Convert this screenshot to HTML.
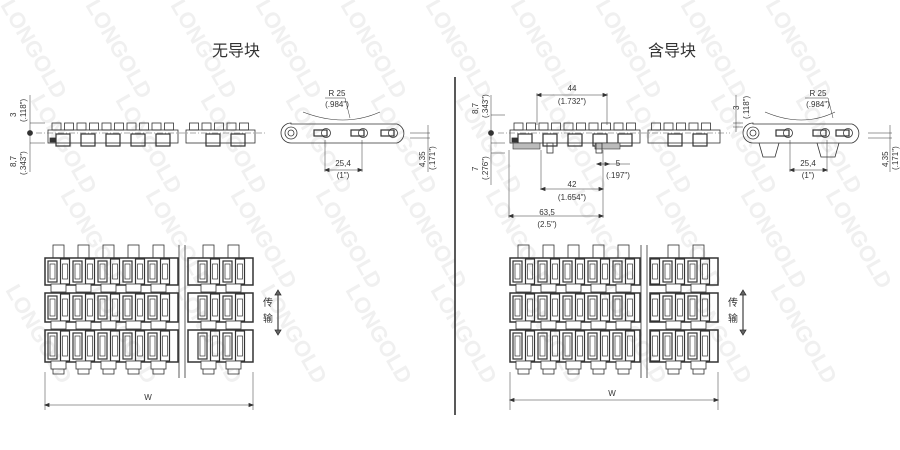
<!DOCTYPE html>
<html><head><meta charset="utf-8"><style>
html,body{margin:0;padding:0;background:#fff;overflow:hidden;width:900px;height:450px;}
svg{display:block;overflow:hidden;}
text{font-family:"Liberation Sans","Noto Sans CJK SC",sans-serif;fill:#333;}
text.w{fill:#f0f0f0;font-size:22px;font-weight:bold;}
</style></head><body>
<svg id="s" width="900" height="450" viewBox="0 0 900 450" xmlns="http://www.w3.org/2000/svg">
<g id="wm"></g>
<text x="212" y="56" font-size="16">无导块</text>
<text x="648" y="56" font-size="16">含导块</text>
<line x1="455" y1="77" x2="455" y2="415" stroke="#222" stroke-width="1.5"/>
<g id="g" stroke="#333" fill="none" stroke-width="0.8"></g>
<g font-size="8">
<text transform="translate(16,117) rotate(-90)">3</text>
<text transform="translate(26,122) rotate(-90)">(.118")</text>
<text transform="translate(16,167) rotate(-90)">8,7</text>
<text transform="translate(26,175) rotate(-90)">(.343")</text>
<text x="337" y="96" text-anchor="middle">R 25</text>
<text x="337" y="107" text-anchor="middle">(.984")</text>
<text x="343" y="166" text-anchor="middle">25,4</text>
<text x="343" y="178" text-anchor="middle">(1")</text>
<text transform="translate(425,167) rotate(-90)">4,35</text>
<text transform="translate(435,170) rotate(-90)">(.171")</text>
<text x="148" y="400" text-anchor="middle">W</text>
<text x="263" y="306" font-size="10">传</text>
<text x="263" y="322" font-size="10">输</text>
<text x="572" y="91" text-anchor="middle">44</text>
<text x="572" y="104" text-anchor="middle">(1.732")</text>
<text transform="translate(478,114) rotate(-90)">8,7</text>
<text transform="translate(488,118) rotate(-90)">(.343")</text>
<text transform="translate(478,171) rotate(-90)">7</text>
<text transform="translate(488,180) rotate(-90)">(.276")</text>
<text x="618" y="166" text-anchor="middle">5</text>
<text x="618" y="178" text-anchor="middle">(.197")</text>
<text x="572" y="187" text-anchor="middle">42</text>
<text x="572" y="200" text-anchor="middle">(1.654")</text>
<text x="547" y="215" text-anchor="middle">63,5</text>
<text x="547" y="227" text-anchor="middle">(2.5")</text>
<text transform="translate(739,110) rotate(-90)">3</text>
<text transform="translate(749,119) rotate(-90)">(.118")</text>
<text x="818" y="96" text-anchor="middle">R 25</text>
<text x="818" y="107" text-anchor="middle">(.984")</text>
<text x="808" y="166" text-anchor="middle">25,4</text>
<text x="808" y="178" text-anchor="middle">(1")</text>
<text transform="translate(888,167) rotate(-90)">4,35</text>
<text transform="translate(898,170) rotate(-90)">(.171")</text>
<text x="612" y="396" text-anchor="middle">W</text>
<text x="728" y="306" font-size="10">传</text>
<text x="728" y="322" font-size="10">输</text>
</g>
</svg>
<script>
(function(){
var NS="http://www.w3.org/2000/svg",g=document.getElementById('g'),wm=document.getElementById('wm');
function el(t,a,p){var e=document.createElementNS(NS,t);for(var k in a)e.setAttribute(k,a[k]);(p||g).appendChild(e);return e;}
function L(x1,y1,x2,y2,w,c,d){var a={x1:x1,y1:y1,x2:x2,y2:y2};if(w)a['stroke-width']=w;if(c)a.stroke=c;if(d)a['stroke-dasharray']=d;return el('line',a);}
function R(x,y,w,h,f,sw){var a={x:x,y:y,width:w,height:h};if(f)a.fill=f;if(sw)a['stroke-width']=sw;return el('rect',a);}
function arrowH(x1,x2,y){L(x1,y,x2,y,0.6);el('path',{d:'M'+x1+' '+y+'l4 -1.5v3z',fill:'#333'});el('path',{d:'M'+x2+' '+y+'l-4 -1.5v3z',fill:'#333'});}
for(var i=-2;i<12;i++)for(var j=0;j<4;j++){var tx=i*85+j*30,ty=j*95+5;if(tx<0||tx>840)continue;var t=el('text',{'class':'w',transform:'translate('+tx+','+ty+') rotate(60)'},wm);t.textContent='LONGOLD';}
function side(x0,x1,brk,guide){
 var yt=123,yb=143,x;
 R(x0,yt+7,brk-x0,yb-yt-7);R(brk+8,yt+7,x1-brk-8,yb-yt-7);
 for(x=x0+4;x<x1-6;x+=12.5){if(x>brk-8&&x<brk+10)continue;R(x,yt,9,7);}
 for(x=x0+8;x<x1-10;x+=25){if(x>brk-14&&x<brk+10)continue;R(x,yt+11,14,12,'none',1.2);}
 L(x0-12,133,x1+10,133,0.5,'#555','6 2 1 2');
 if(guide){R(x0+3,yb,27,6,'#bbb',0.6);R(x0+85,yb,25,6,'#bbb',0.6);R(x0+37,yb,6,10);R(x0+86,yb,6,10);}
 R(x0+2,yb-5,6,4,'#333');
}
side(48,255,178,false);side(510,720,640,true);
L(30,123,45,123,0.5);L(30,143,45,143,0.5);el('circle',{cx:30,cy:133,r:2.5,fill:'#333'});L(30,95,30,172,0.5);
L(491,115,505,115,0.5);L(491,143,505,143,0.5);L(491,153,505,153,0.5);el('circle',{cx:491,cy:133,r:2.5,fill:'#333'});L(491,95,491,185,0.5);
function endv(x0,x1,legs){
 var y=123;el('path',{d:'M'+(x0+8)+' '+(y+1)+'H'+(x1-8)+'A10 10 0 0 1 '+(x1-8)+' 143H'+(x0+8)+'A10 10 0 0 1 '+(x0+8)+' 123z'});
 el('circle',{cx:x0+8,cy:133,r:6});el('circle',{cx:x0+8,cy:133,r:3});
 var p=[x0+43,x0+80,x1-12];for(var i=0;i<3;i++){R(p[i]-12,130,13,6,'none',1.2);el('circle',{cx:p[i],cy:133,r:4.5});}
 el('path',{d:'M'+(x0+20)+' 112Q'+((x0+x1)/2)+' 128 '+(x1-25)+' 112','stroke-width':0.6});
 if(legs){[[x0+14,x0+34],[x0+72,x0+94]].forEach(function(a){el('path',{d:'M'+a[0]+' 143L'+(a[0]+4)+' 157H'+(a[1]-4)+'L'+a[1]+' 143'});});}
}
endv(283,405,false);endv(745,860,true);
L(325,140,325,172,0.5);L(362,140,362,172,0.5);arrowH(325,362,170);
L(790,140,790,172,0.5);L(827,140,827,172,0.5);arrowH(790,827,170);
L(410,133,430,133,0.5);L(410,138,430,138,0.5);L(428,125,428,172,0.5);
L(868,133,892,133,0.5);L(868,138,892,138,0.5);L(890,125,890,172,0.5);
L(733,123,743,123,0.5);L(733,127,743,127,0.5);L(736,95,736,132,0.5);
el('path',{d:'M325 98H345L350 118','stroke-width':0.5});el('path',{d:'M805 98H828L833 118','stroke-width':0.5});
L(537,93,537,125,0.5);L(607,93,607,125,0.5);arrowH(537,607,95);
L(541,150,541,190,0.5);L(603,150,603,218,0.5);arrowH(541,603,189);
L(509,150,509,218,0.5);arrowH(509,603,216);
arrowH(597,609,164);L(609,164,630,164,0.5);
function topv(x0,x1,brk){
 var rows=[[258,285],[293,322],[330,362]],x;
 for(x=x0+8;x<x1-5;x+=25){if(x>brk-10&&x<brk+10)continue;R(x,245,11,13);R(x,362,11,12);}
 rows.forEach(function(r){
  var xx;
  R(x0,r[0],brk-x0,r[1]-r[0],'none',1.5);R(brk+10,r[0],x1-brk-10,r[1]-r[0],'none',1.5);
  for(xx=x0+3;xx<x1-8;xx+=12.5){if(xx>brk-10&&xx<brk+10)continue;var o=((xx-x0)/12.5|0)%2?4:0;R(xx,r[0]+3-o/2,9,r[1]-r[0]-6+o,'none',1.2);R(xx+2,r[0]+6,5,r[1]-r[0]-12,'none',0.7);}
  for(xx=x0+8;xx<x1-8;xx+=25){if(xx>brk-10&&xx<brk+10)continue;R(xx-2,r[1]-1,15,8,'#fff',0.8);}
 });
 L(brk+1,245,brk+1,378);L(brk+7,245,brk+7,378);
 L(x0,372,x0,410,0.5);L(x1,372,x1,410,0.5);
}
topv(45,253,178);arrowH(45,253,405);
topv(510,718,640);arrowH(510,718,400);
L(278,292,278,333,1.5,'#666');el('path',{d:'M278 290l-3 5h6z',fill:'#666'});el('path',{d:'M278 335l-3 -5h6z',fill:'#666'});
L(743,292,743,333,1.5,'#666');el('path',{d:'M743 290l-3 5h6z',fill:'#666'});el('path',{d:'M743 335l-3 -5h6z',fill:'#666'});
})();
</script>
</body></html>
